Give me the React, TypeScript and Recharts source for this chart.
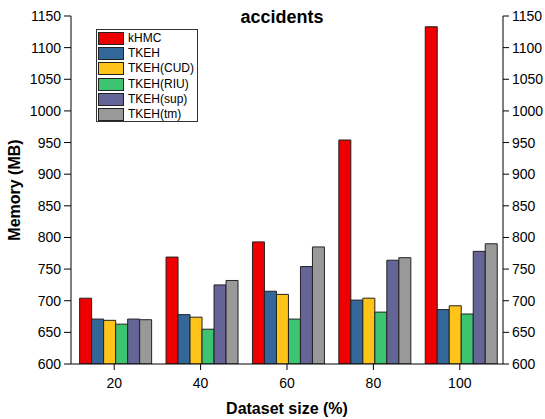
import React from 'react';
import { BarChart, Bar, XAxis, YAxis, Label } from 'recharts';

const categories = ['20', '40', '60', '80', '100'];
const kHMC = [704, 769, 793, 954, 1133];
const TKEH = [671, 678, 715, 701, 686];
const TKEH_CUD = [669, 674, 710, 704, 692];
const TKEH_RIU = [663, 655, 671, 682, 679];
const TKEH_sup = [671, 725, 754, 764, 778];
const TKEH_tm = [670, 732, 785, 768, 790];
const yTicks = [600, 650, 700, 750, 800, 850, 900, 950, 1000, 1050, 1100, 1150];

const series = [
  { key: 'kHMC', name: 'kHMC', values: kHMC, color: '#ee0000' },
  { key: 'TKEH', name: 'TKEH', values: TKEH, color: '#336699' },
  { key: 'CUD', name: 'TKEH(CUD)', values: TKEH_CUD, color: '#ffc31a' },
  { key: 'RIU', name: 'TKEH(RIU)', values: TKEH_RIU, color: '#3cc470' },
  { key: 'sup', name: 'TKEH(sup)', values: TKEH_sup, color: '#646496' },
  { key: 'tm', name: 'TKEH(tm)', values: TKEH_tm, color: '#999999' },
];

const data = categories.map((c, i) => {
  const row: any = { cat: c };
  series.forEach((s) => { row[s.key] = s.values[i]; });
  return row;
});

const FONT = 'Liberation Sans, Arial, sans-serif';

const LegendBox = () => (
  <div style={{ position: 'absolute', left: 96, top: 29, width: 102, height: 93, border: '1px solid #333', background: '#fff', padding: '1px 1px', boxSizing: 'border-box', fontFamily: FONT, fontSize: 12 }}>
    {series.map((s) => (
      <div key={s.key} style={{ display: 'flex', alignItems: 'center', height: 15.2 }}>
        <div style={{ width: 26, height: 13, background: s.color, border: '1px solid #222', marginRight: 4, boxSizing: 'border-box' }} />
        <span style={{ color: '#000', lineHeight: '13px' }}>{s.name}</span>
      </div>
    ))}
  </div>
);

const tickStyle = { fill: '#000', fontSize: 14, fontFamily: FONT };

export default function App() {
  return (
    <div style={{ position: 'absolute', left: 0, top: 0, width: 545, height: 419, background: '#fff' }}>
      <BarChart width={545} height={419} data={data} margin={{ top: 16, right: 0, left: 0, bottom: 0 }} barCategoryGap="10%" barGap={0}>
        <XAxis dataKey="cat" height={55} tickLine={{ stroke: '#000' }} axisLine={{ stroke: '#000' }} tickSize={6} tickMargin={8} tick={tickStyle}>
          <Label value="Dataset size (%)" position="insideBottom" offset={5} style={{ fontFamily: FONT, fontWeight: 'bold', fontSize: 16, fill: '#000' }} />
        </XAxis>
        <YAxis yAxisId="l" orientation="left" width={71} domain={[600, 1150]} ticks={yTicks} allowDataOverflow interval={0} tickLine={{ stroke: '#000' }} axisLine={{ stroke: '#000' }} tickSize={7} tickMargin={3} tick={tickStyle}>
          <Label value="Memory (MB)" angle={-90} position="insideLeft" offset={14} style={{ fontFamily: FONT, fontWeight: 'bold', fontSize: 16, fill: '#000', textAnchor: 'middle' }} />
        </YAxis>
        <YAxis yAxisId="r" orientation="right" width={42} domain={[600, 1150]} ticks={yTicks} allowDataOverflow interval={0} tickLine={{ stroke: '#000' }} axisLine={{ stroke: '#000' }} tickSize={6} tickMargin={3} tick={tickStyle} />
        {series.map((s) => (
          <Bar key={s.key} yAxisId="l" dataKey={s.key} name={s.name} fill={s.color} stroke="#222" strokeWidth={1} isAnimationActive={false} />
        ))}
      </BarChart>
      <div style={{ position: 'absolute', left: 202, width: 160, top: 7, textAlign: 'center', fontFamily: FONT, fontWeight: 'bold', fontSize: 18, lineHeight: 'normal' }}>accidents</div>
      <LegendBox />
    </div>
  );
}
